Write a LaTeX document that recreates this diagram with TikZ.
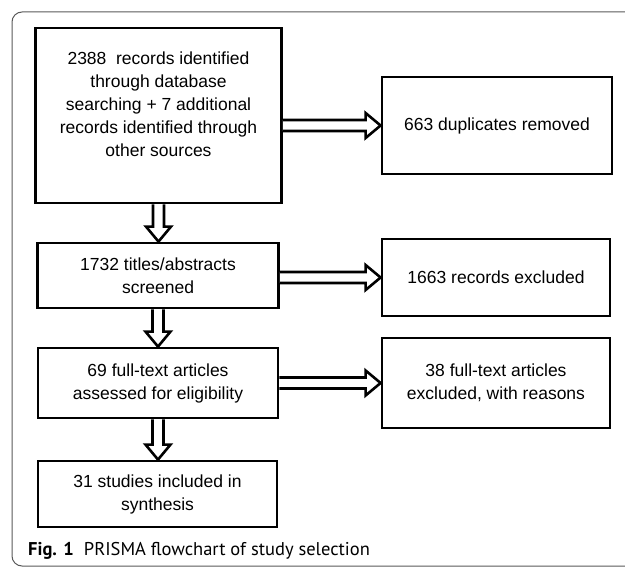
\documentclass[tikz,border=0pt]{standalone}
\usepackage{fontspec}
\setmainfont{Liberation Sans}
\newfontfamily\capfont{PT Sans}
\usetikzlibrary{calc}

\newcommand{\rightfat}[2]{%
  \draw[fat] let \p1=(#1.east), \p2=(#2.west) in
    (\x1,\y2+5.5pt) -- (\x2-15pt,\y2+5.5pt) -- (\x2-15pt,\y2+12.5pt) -- (\x2,\y2)
    -- (\x2-15pt,\y2-12.5pt) -- (\x2-15pt,\y2-5.5pt) -- (\x1,\y2-5.5pt);}
\newcommand{\downfat}[2]{%
  \draw[fat] let \p1=(#1.south), \p2=(#2.north) in
    (\x1-5.5pt,\y1) -- (\x1-5.5pt,\y2+15pt) -- (\x1-12.5pt,\y2+15pt) -- (\x1,\y2)
    -- (\x1+12.5pt,\y2+15pt) -- (\x1+5.5pt,\y2+15pt) -- (\x1+5.5pt,\y1);}

\begin{document}
\begin{tikzpicture}[x=1pt,y=1pt,
  box/.style={draw,line width=2.8pt,align=center,inner sep=0pt,
    font=\fontsize{17.5}{23}\selectfont},
  fat/.style={draw,line width=2.6pt,fill=white},
  frame/.style={draw=black!65,line width=1pt,rounded corners=10pt}]
  \useasboundingbox (0,0) rectangle (625,-567);
  \clip (0,0) rectangle (625,-567);
  \draw[frame] (12,-12) rectangle (660,-566);

  \node[box,minimum width=246pt,minimum height=175pt] (ident) at (158.5,-115.5)
    {2388~ records identified\\through database\\searching + 7 additional\\records identified through\\other sources\\ \mbox{}};
  \node[box,minimum width=230pt,minimum height=97pt] (dupl) at (497,-125.5)
    {663 duplicates removed};

  \node[box,minimum width=241pt,minimum height=65pt] (screen) at (158,-275.5)
    {1732 titles/abstracts\\screened};
  \node[box,minimum width=228pt,minimum height=77pt] (recex) at (496,-277.5)
    {1663 records excluded};

  \node[box,minimum width=240pt,minimum height=70pt] (full) at (158,-383)
    {69 full-text articles\\assessed for eligibility};
  \node[box,minimum width=228pt,minimum height=90pt] (fullex) at (496,-383)
    {38 full-text articles\\excluded, with reasons};

  \node[box,minimum width=239pt,minimum height=66pt] (incl) at (157.5,-494)
    {31 studies included in\\synthesis};

  \rightfat{ident}{dupl}
  \rightfat{screen}{recex}
  \rightfat{full}{fullex}
  \downfat{ident}{screen}
  \downfat{screen}{full}
  \downfat{full}{incl}

  \node[anchor=base west,inner sep=0pt,font=\capfont\fontsize{18.5}{20}\selectfont] (cap) at (28,-555)
    {\textbf{Fig. 1}\hspace{0.55em}PRISMA flowchart of study selection};
\end{tikzpicture}
\end{document}
